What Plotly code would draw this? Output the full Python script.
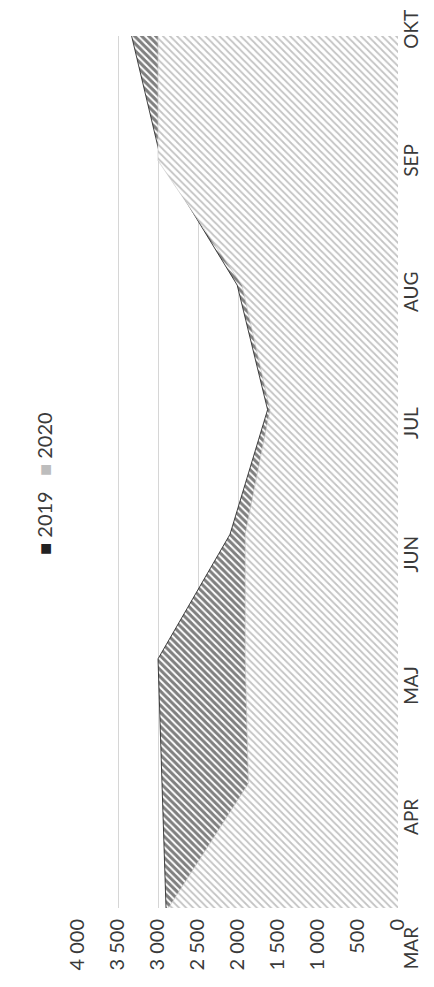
import plotly.graph_objects as go

months = ["MAR", "APR", "MAJ", "JUN", "JUL", "AUG", "SEP", "OKT"]
series_names = ["2019", "2020"]
v2019 = [2900, 2950, 3000, 2100, 1630, 2010, 2960, 3330]
v2020 = [2870, 1870, 1910, 1910, 1600, 1950, 3000, 3000]
value_ticks = [0, 500, 1000, 1500, 2000, 2500, 3000, 3500, 4000]
value_tick_text = ["0", "500", "1 000", "1 500", "2 000", "2 500", "3 000", "3 500", "4 000"]

FONT = "Lato"
TXT = "#3a3a3a"

fig = go.Figure()
fig.add_trace(go.Scatter(
    x=v2019, y=months, name=series_names[0], mode="lines", fill="tozerox",
    line=dict(color="#1a1a1a", width=0.8),
    fillpattern=dict(shape="\\", fgcolor="#000000", bgcolor="white", size=5, solidity=0.6),
    showlegend=False, hoverinfo="skip"))
fig.add_trace(go.Scatter(
    x=v2020, y=months, name=series_names[1], mode="lines", fill="tozerox",
    line=dict(color="#c4c4c4", width=0.6),
    fillpattern=dict(shape="\\", fgcolor="#878787", bgcolor="white", size=5, solidity=0.35),
    showlegend=False, hoverinfo="skip"))
# helper trace for the category label axis
fig.add_trace(go.Scatter(x=[None], y=[None], xaxis="x2", yaxis="y2",
                         showlegend=False, hoverinfo="skip"))

fig.update_layout(
    width=434, height=987,
    margin=dict(l=70, r=44, t=10, b=30),
    paper_bgcolor="white", plot_bgcolor="rgba(0,0,0,0)",
    font=dict(family=FONT, color=TXT),
    xaxis=dict(domain=[0, 1], range=[4000, 0], tickvals=value_ticks, ticktext=value_tick_text,
               tickangle=-90, tickfont=dict(size=20, family=FONT, color=TXT),
               showgrid=True, gridcolor="#d6d6d6", gridwidth=1, zeroline=False,
               showline=False, ticks="", ticklabelstandoff=6, automargin=False,
               anchor="y"),
    yaxis=dict(domain=[0.0602, 0.981], type="category", range=[0, 7],
               showgrid=False, zeroline=False, showline=False, showticklabels=False,
               ticks="", anchor="x"),
    xaxis2=dict(domain=[0, 1], range=[4000, 0], visible=False, anchor="y2"),
    yaxis2=dict(domain=[0.0148, 0.9852], range=[0, 7], tickvals=list(range(len(months))),
                ticktext=months, side="right", anchor="x2", tickangle=-90,
                tickfont=dict(size=19, family=FONT, color=TXT),
                showgrid=False, zeroline=False, showline=False, ticks="",
                ticklabelstandoff=0, ticklabeloverflow="allow", automargin=False),
    annotations=[dict(
        xref="paper", yref="paper", x=-0.15, y=0.508, showarrow=False, textangle=-90,
        text=('<span style="color:#222222">■</span> ' + series_names[0] +
              '   <span style="color:#bdbdbd">■</span> ' + series_names[1]),
        font=dict(size=20, family=FONT, color=TXT))],
)

fig.write_html("out.html")
